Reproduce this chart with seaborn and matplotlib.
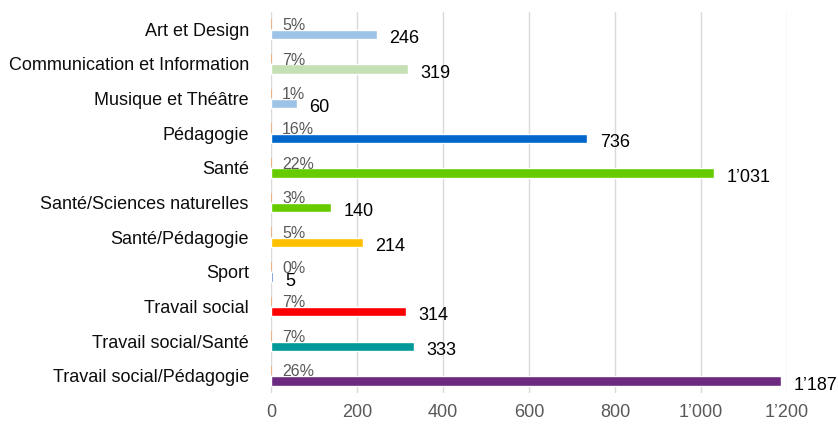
import pandas as pd
import matplotlib.pyplot as plt
import matplotlib.ticker as mticker
import seaborn as sns

# Data
categories = ["Art et Design", "Communication et Information", "Musique et Théâtre",
              "Pédagogie", "Santé", "Santé/Sciences naturelles", "Santé/Pédagogie",
              "Sport", "Travail social", "Travail social/Santé", "Travail social/Pédagogie"]
counts = [246, 319, 60, 736, 1031, 140, 214, 5, 314, 333, 1187]
percents = [5, 7, 1, 16, 22, 3, 5, 0, 7, 7, 26]
bar_colors = ["#9DC3E6", "#C5E0B4", "#9DC3E6", "#0066CC", "#66CC00", "#66CC00",
              "#FFC000", "#4472C4", "#FF0000", "#009999", "#6B2A7F"]
x_ticks = [0, 200, 400, 600, 800, 1000, 1200]


def swiss(v, pos=None):
    return f"{int(v):,}".replace(",", "\u2019")


# the percent series sits on the same axis as the counts, so it is only a sliver
data = pd.DataFrame({
    "Filière": categories * 2,
    "Série": ["pct"] * len(categories) + ["n"] * len(categories),
    "Valeur": [p / 100 for p in percents] + counts,
})

sns.set_theme(style="white")
plt.rcParams['font.family'] = ['Liberation Sans', 'DejaVu Sans']

fig, ax = plt.subplots(figsize=(8.38, 4.25), dpi=100)
fig.subplots_adjust(left=0.3234, right=0.939, top=0.972, bottom=0.075)

sns.barplot(data=data, x="Valeur", y="Filière", hue="Série", hue_order=["pct", "n"],
            order=categories, orient="h", width=0.6, gap=0.1, legend=False, ax=ax)

# Recolor: first container = percent series, second = counts
for patch in ax.containers[0]:
    patch.set_facecolor("#F4B183")
    patch.set_edgecolor("#F4B183")
    patch.set_linewidth(1.4)
for patch, c in zip(ax.containers[1], bar_colors):
    patch.set_facecolor(c)

for patch, p in zip(ax.containers[0], percents):
    yc = patch.get_y() + patch.get_height() / 2
    ax.annotate(f"{p}%", xy=(patch.get_width(), yc), xytext=(8, -1), textcoords="offset points",
                ha="left", va="center", fontsize=11.5, color="#595959")
for patch, v in zip(ax.containers[1], counts):
    yc = patch.get_y() + patch.get_height() / 2
    ax.annotate(swiss(v), xy=(patch.get_width(), yc), xytext=(9, -3), textcoords="offset points",
                ha="left", va="center", fontsize=13, color="black")

ax.set_xlim(0, 1200)
ax.set_xticks(x_ticks)
ax.xaxis.set_major_formatter(mticker.FuncFormatter(swiss))
ax.grid(axis="x", color="#D9D9D9", linewidth=1)
ax.set_axisbelow(True)
for s in ax.spines.values():
    s.set_visible(False)
ax.set_xlabel("")
ax.set_ylabel("")
ax.tick_params(axis="x", labelsize=13, colors="#595959", length=0, pad=8)
ax.tick_params(axis="y", labelsize=13, labelcolor="#0D0D0D", length=0, pad=16)

fig.savefig("out.png", dpi=100)
